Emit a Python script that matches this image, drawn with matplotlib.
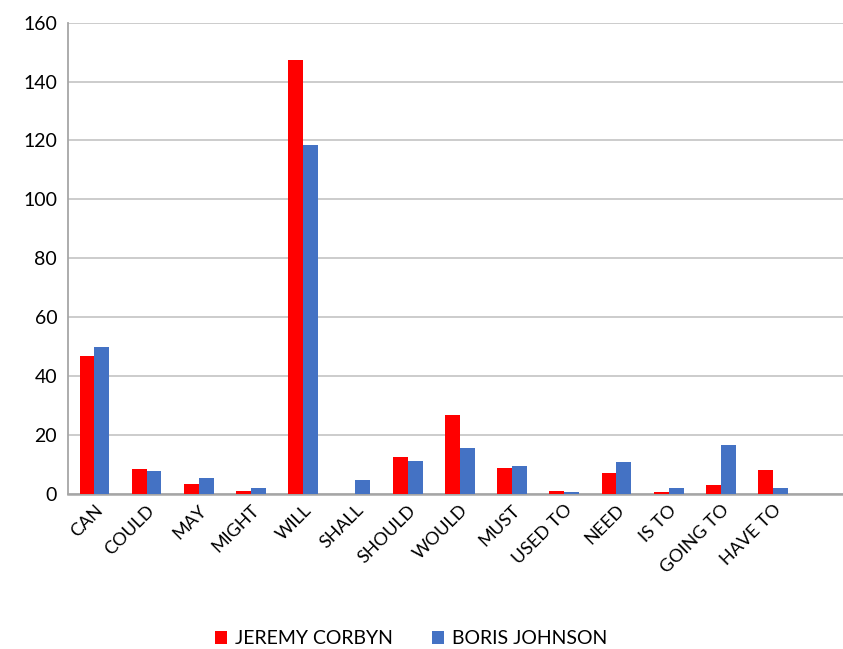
import numpy as np
import matplotlib
matplotlib.use("Agg")
import matplotlib.pyplot as plt

categories = ["CAN", "COULD", "MAY", "MIGHT", "WILL", "SHALL", "SHOULD",
              "WOULD", "MUST", "USED TO", "NEED", "IS TO", "GOING TO", "HAVE TO"]
corbyn = [46.8, 8.4, 3.4, 0.8, 147.2, 0.0, 12.4, 26.8, 8.6, 0.9, 6.9, 0.6, 2.9, 8.1]
johnson = [49.9, 7.7, 5.3, 1.8, 118.5, 4.7, 11.2, 15.4, 9.4, 0.6, 10.9, 1.8, 16.6, 1.8]
yticks = [0, 20, 40, 60, 80, 100, 120, 140, 160]

plt.rcParams["font.family"] = ["Lato", "DejaVu Sans"]

fig = plt.figure(figsize=(8.43, 6.49), dpi=100)
ax = fig.add_axes([68.3 / 843, 1 - 493.7 / 649, 1 - 68.3 / 843, (493.7 - 22.7) / 649])

x = np.arange(len(categories))
w = 0.285
ax.bar(x - w / 2, corbyn, w, color="#FF0000", label="JEREMY CORBYN", zorder=3)
ax.bar(x + w / 2, johnson, w, color="#4472C4", label="BORIS JOHNSON", zorder=3)

ax.set_ylim(0, 160)
ax.set_xlim(-0.5, 14.34)
ax.set_yticks(yticks)
ax.set_yticklabels([str(t) for t in yticks], fontsize=14)
ax.set_xticks(x)
ax.set_xticklabels(categories, rotation=45, ha="right", rotation_mode="anchor",
                   fontsize=13)
ax.tick_params(axis="both", length=0, pad=8)
ax.tick_params(axis="x", pad=6)

ax.grid(axis="y", color="#C8C8C8", linewidth=1.3, zorder=0)
for side in ["top", "right"]:
    ax.spines[side].set_visible(False)
ax.spines["left"].set_color("#A6A6A6")
ax.spines["left"].set_linewidth(1.3)
ax.spines["bottom"].set_color("#A6A6A6")
ax.spines["bottom"].set_linewidth(1.8)

fig.legend(loc="center", bbox_to_anchor=(411 / 843, 1 - 639 / 649), ncol=2,
           frameon=False, fontsize=14, handlelength=0.65, handleheight=0.65,
           handletextpad=0.4, columnspacing=2.0)

fig.savefig("out.png", dpi=100)
